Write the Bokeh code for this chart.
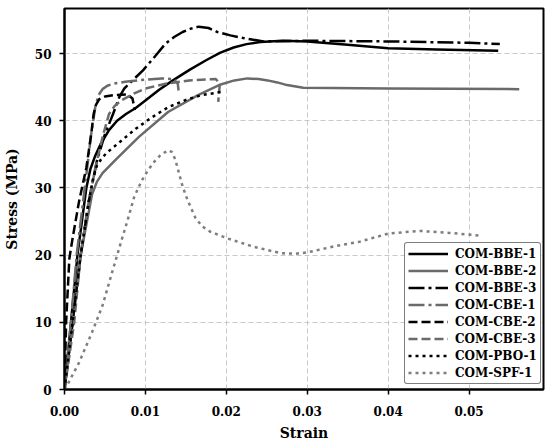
from bokeh.plotting import figure
from bokeh.models import Range1d, FixedTicker, NumeralTickFormatter, Legend, LegendItem
from bokeh.embed import file_html
from bokeh.resources import INLINE

# ---- data ----
bbe1_x = [0, 0.0008, 0.0016, 0.0027, 0.0032, 0.0038, 0.0045, 0.0055, 0.0065, 0.0076, 0.0088, 0.0100, 0.0117, 0.0134, 0.0155, 0.0175, 0.0192, 0.0209, 0.0225, 0.0242, 0.0270, 0.0300, 0.0350, 0.0400, 0.0460, 0.0536]
bbe1_y = [0, 10, 20, 30, 32.8, 34.8, 36.6, 38.6, 40.0, 41.0, 41.9, 43.0, 44.6, 46.0, 47.6, 49.0, 50.1, 50.9, 51.4, 51.7, 51.9, 51.8, 51.3, 50.8, 50.6, 50.4]

bbe2_x = [0, 0.0010, 0.0020, 0.0034, 0.0040, 0.0047, 0.0064, 0.0092, 0.0128, 0.0165, 0.0193, 0.0210, 0.0226, 0.0240, 0.0251, 0.0263, 0.0275, 0.0295, 0.0400, 0.0562]
bbe2_y = [0, 10, 20, 29.0, 30.9, 32.2, 34.3, 37.6, 41.3, 43.8, 45.4, 46.0, 46.3, 46.2, 46.0, 45.7, 45.3, 44.9, 44.8, 44.7]

bbe3_x = [0, 0.0010, 0.0020, 0.0030, 0.0040, 0.0050, 0.0060, 0.0068, 0.0074, 0.0085, 0.0097, 0.0112, 0.0125, 0.0136, 0.0146, 0.0156, 0.0166, 0.0178, 0.0189, 0.0205, 0.0221, 0.0246, 0.0300, 0.0400, 0.0500, 0.0538]
bbe3_y = [0, 10, 20, 28, 34, 38, 41, 43.6, 44.8, 46.1, 47.5, 49.6, 51.5, 52.5, 53.2, 53.7, 54.0, 53.8, 53.2, 52.7, 52.3, 51.8, 51.9, 51.8, 51.6, 51.4]

cbe1_x = [0, 0.0008, 0.0015, 0.0025, 0.0033, 0.0038, 0.0042, 0.0047, 0.0053, 0.0060, 0.0075, 0.0090, 0.0120, 0.0135, 0.0140, 0.0141]
cbe1_y = [0, 10, 20, 30, 38, 42, 43.8, 44.7, 45.2, 45.5, 45.8, 46.0, 46.3, 46.2, 45.5, 44.5]

cbe2_x = [0, 0.0002, 0.0006, 0.0010, 0.0018, 0.0027, 0.0033, 0.0036, 0.0039, 0.0043, 0.0050, 0.0060, 0.0078, 0.0084, 0.0087]
cbe2_y = [0, 10, 19.5, 22.5, 28.0, 33.0, 38.0, 41.0, 42.4, 43.2, 43.6, 43.8, 43.9, 43.3, 41.6]

cbe3_x = [0, 0.0012, 0.0020, 0.0030, 0.0040, 0.0048, 0.0055, 0.0062, 0.0070, 0.0085, 0.0100, 0.0125, 0.0154, 0.0187, 0.0192, 0.0190]
cbe3_y = [0, 10, 20, 28, 34, 38, 41, 42.2, 43.0, 44.0, 44.8, 45.5, 46.0, 46.2, 45.5, 42.8]

pbo1_x = [0, 0.0010, 0.0020, 0.0030, 0.0035, 0.0040, 0.0046, 0.0052, 0.0060, 0.0068, 0.0088, 0.0108, 0.0128, 0.0150, 0.0169, 0.0195]
pbo1_y = [0, 10, 20, 28, 31.2, 33.3, 34.4, 35.2, 36.0, 36.8, 38.8, 40.5, 42.0, 43.1, 43.8, 44.3]

spf1_x = [0, 0.0004, 0.0018, 0.0034, 0.0047, 0.0059, 0.0070, 0.0078, 0.0086, 0.0095, 0.0103, 0.0111, 0.0118, 0.0124, 0.0129, 0.0133, 0.0137, 0.0141, 0.0146, 0.0152, 0.0162, 0.0170, 0.0180, 0.0201, 0.0235, 0.0267, 0.0285, 0.0300, 0.0337, 0.0365, 0.0400, 0.0439, 0.0476, 0.0515]
spf1_y = [0, 0.8, 4.0, 8.5, 12.5, 17.5, 22.0, 25.2, 28.6, 31.0, 32.6, 33.9, 34.8, 35.3, 35.6, 35.3, 34.2, 32.4, 30.2, 28.2, 25.5, 24.3, 23.5, 22.5, 21.2, 20.3, 20.2, 20.4, 21.4, 22.0, 23.2, 23.6, 23.3, 22.9]

x_ticks = [0, 0.01, 0.02, 0.03, 0.04, 0.05]
y_ticks = [0, 10, 20, 30, 40, 50]

series = [
    ("COM-BBE-1", bbe1_x, bbe1_y, "black", "solid"),
    ("COM-BBE-2", bbe2_x, bbe2_y, "#6a6a6a", "solid"),
    ("COM-BBE-3", bbe3_x, bbe3_y, "black", "16 4 3 4"),
    ("COM-CBE-1", cbe1_x, cbe1_y, "#6a6a6a", "16 4 3 4"),
    ("COM-CBE-2", cbe2_x, cbe2_y, "black", "9 4"),
    ("COM-CBE-3", cbe3_x, cbe3_y, "#6a6a6a", "9 4"),
    ("COM-PBO-1", pbo1_x, pbo1_y, "black", "3 4"),
    ("COM-SPF-1", spf1_x, spf1_y, "#7e7e7e", "3 4"),
]

FONT = "DejaVu Serif"

p = figure(width=550, height=446, output_backend="svg", toolbar_location=None,
           x_range=Range1d(0, 0.0592), y_range=Range1d(0, 56.7))
p.min_border_left = 63
p.min_border_right = 7
p.min_border_top = 8
p.min_border_bottom = 57
p.outline_line_color = "black"
p.outline_line_width = 2
p.background_fill_color = "white"
p.border_fill_color = "white"

for ax in (p.xaxis[0], p.yaxis[0]):
    ax.axis_line_width = 2
    ax.axis_line_color = "black"
    ax.major_tick_in = 0
    ax.major_tick_out = 5
    ax.major_tick_line_width = 1.5
    ax.minor_tick_line_color = None
    ax.major_label_text_font = FONT
    ax.major_label_text_font_style = "bold"
    ax.major_label_text_font_size = "12px"
    ax.major_label_text_color = "black"
    ax.axis_label_text_font = FONT
    ax.axis_label_text_font_style = "bold"
    ax.axis_label_text_font_size = "14px"
    ax.axis_label_text_color = "black"

p.xaxis[0].major_label_standoff = 11
p.xaxis[0].axis_label_standoff = 6
p.yaxis[0].major_label_standoff = 8
p.yaxis[0].axis_label_standoff = 12

p.xaxis[0].ticker = FixedTicker(ticks=x_ticks)
p.xaxis[0].formatter = NumeralTickFormatter(format="0.00")
p.yaxis[0].ticker = FixedTicker(ticks=y_ticks)
p.xaxis[0].axis_label = "Strain"
p.yaxis[0].axis_label = "Stress (MPa)"

for g in (p.xgrid[0], p.ygrid[0]):
    g.grid_line_color = "#c8c8c8"
    g.grid_line_dash = "5 3"
    g.grid_line_width = 1

items = []
for name, xs, ys, col, dash in series:
    r = p.line(xs, ys, line_color=col, line_width=2.5, line_dash=dash, line_cap="butt", line_join="round")
    items.append(LegendItem(label=name, renderers=[r]))

legend = Legend(items=items, location=(340, 5))
legend.label_text_font = FONT
legend.label_text_font_style = "bold"
legend.label_text_font_size = "12px"
legend.label_text_color = "black"
legend.glyph_width = 40
legend.glyph_height = 15
legend.label_height = 15
legend.spacing = 2
legend.padding = 3
legend.margin = 0
legend.label_standoff = 7
legend.border_line_color = "black"
legend.border_line_width = 1.5
legend.border_radius = 3
legend.background_fill_color = "white"
legend.background_fill_alpha = 1
p.add_layout(legend, "center")

open("out.html", "w").write(file_html(p, INLINE))
